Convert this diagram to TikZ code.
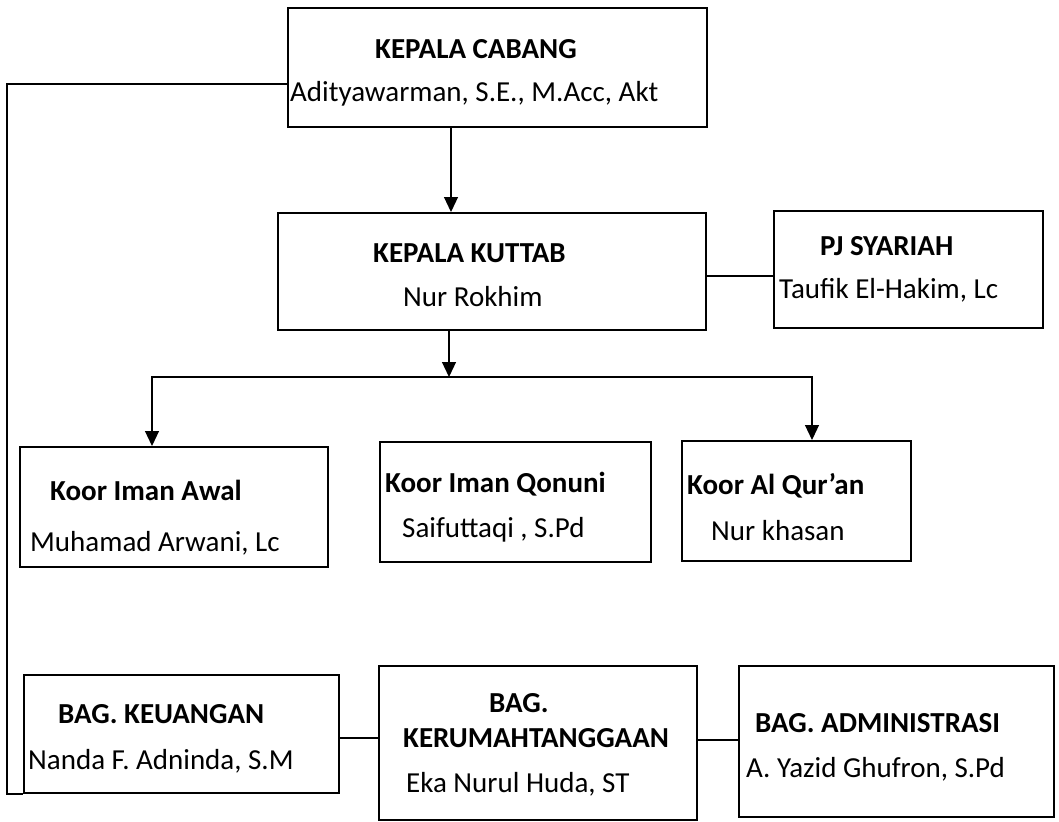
\documentclass[tikz,border=0pt]{standalone}
\usepackage{fontspec}
\setmainfont{Carlito}
\usepackage{tikz}
\usetikzlibrary{arrows.meta}
\tikzset{
	>={Triangle[width=14pt,length=15pt]}, % filled arrow heads
	x=1pt, y=-1pt, % one unit is one pixel of the picture, y runs down
	kotak/.style={draw, line width=2pt, anchor=north west, inner sep=0pt}, % frame of every box
	jabatan/.style={anchor=base west, inner sep=0pt, font=\fontsize{29}{35}\selectfont\bfseries}, % title of the position
	pejabat/.style={anchor=base west, inner sep=0pt, font=\fontsize{29}{35}\selectfont}, % name of the person
	garis/.style={line width=1.2pt}, % connecting lines
}

\begin{document}
\begin{tikzpicture}
	\useasboundingbox (0,0) rectangle (1059,821);
	% boxes
	\node[kotak, minimum width=419pt, minimum height=119pt] (cabang) at (287,7) {};
	\node[kotak, minimum width=428pt, minimum height=117pt] (kuttab) at (277,212) {};
	\node[kotak, minimum width=269pt, minimum height=117pt] (syariah) at (773,210) {};
	\node[kotak, minimum width=308pt, minimum height=120pt] (awal) at (19,446) {};
	\node[kotak, minimum width=271pt, minimum height=120pt] (qonuni) at (379,441) {};
	\node[kotak, minimum width=229pt, minimum height=120pt] (quran) at (681,440) {};
	\node[kotak, minimum width=315pt, minimum height=118pt] (keuangan) at (23,674) {};
	\node[kotak, minimum width=318pt, minimum height=154pt] (rumah) at (378,665) {};
	\node[kotak, minimum width=315pt, minimum height=151pt] (admin) at (738,665) {};
	% texts
	\node[jabatan] (cabangJ) at (375,59) {KEPALA CABANG};
	\node[pejabat] (cabangP) at (290,102) {Adityawarman, S.E., M.Acc, Akt};
	\node[jabatan] (kuttabJ) at (373,262) {KEPALA KUTTAB};
	\node[pejabat] (kuttabP) at (403,306) {Nur Rokhim};
	\node[jabatan] (syariahJ) at (820,255) {PJ SYARIAH};
	\node[pejabat] (syariahP) at (779,298) {Taufik El-Hakim, Lc};
	\node[jabatan] (awalJ) at (50,500) {Koor Iman Awal};
	\node[pejabat] (awalP) at (30,551) {Muhamad Arwani, Lc};
	\node[jabatan] (qonuniJ) at (385,492) {Koor Iman Qonuni};
	\node[pejabat] (qonuniP) at (402,537) {Saifuttaqi , S.Pd};
	\node[jabatan] (quranJ) at (687,494) {Koor Al Qur’an};
	\node[pejabat] (quranP) at (711,540) {Nur khasan};
	\node[jabatan] (keuanganJ) at (58,723) {BAG. KEUANGAN};
	\node[pejabat] (keuanganP) at (28,769) {Nanda F. Adninda, S.M};
	\node[jabatan] (rumahJ) at (489,712) {BAG.};
	\node[jabatan] (rumahK) at (403,747) {KERUMAHTANGGAAN};
	\node[pejabat] (rumahP) at (406,792) {Eka Nurul Huda, ST};
	\node[jabatan] (adminJ) at (755,732) {BAG. ADMINISTRASI};
	\node[pejabat] (adminP) at (746,777) {A. Yazid Ghufron, S.Pd};
	% connectors
	\coordinate (kiri) at (7,84);
	\coordinate (lajur) at (451,0);
	\coordinate (split) at (449,377);
	\coordinate (kaki) at (152,0);
	\coordinate (kanan) at (812,0);
	\draw[garis] (cabang.west |- kiri) -- (kiri) |- (keuangan.south west);
	\draw[garis, ->] (cabang.south -| lajur) -- (kuttab.north -| lajur);
	\draw[garis] (kuttab.east |- 0,276) -- (syariah.west |- 0,276);
	\draw[garis, ->] (kuttab.south -| split) -- (split);
	\draw[garis, ->] (split) -| (awal.north -| kaki);
	\draw[garis, ->] (split) -| (quran.north -| kanan);
	\draw[garis] (keuangan.east |- 0,738) -- (rumah.west |- 0,738);
	\draw[garis] (rumah.east |- 0,740) -- (admin.west |- 0,740);
\end{tikzpicture}
\end{document}
